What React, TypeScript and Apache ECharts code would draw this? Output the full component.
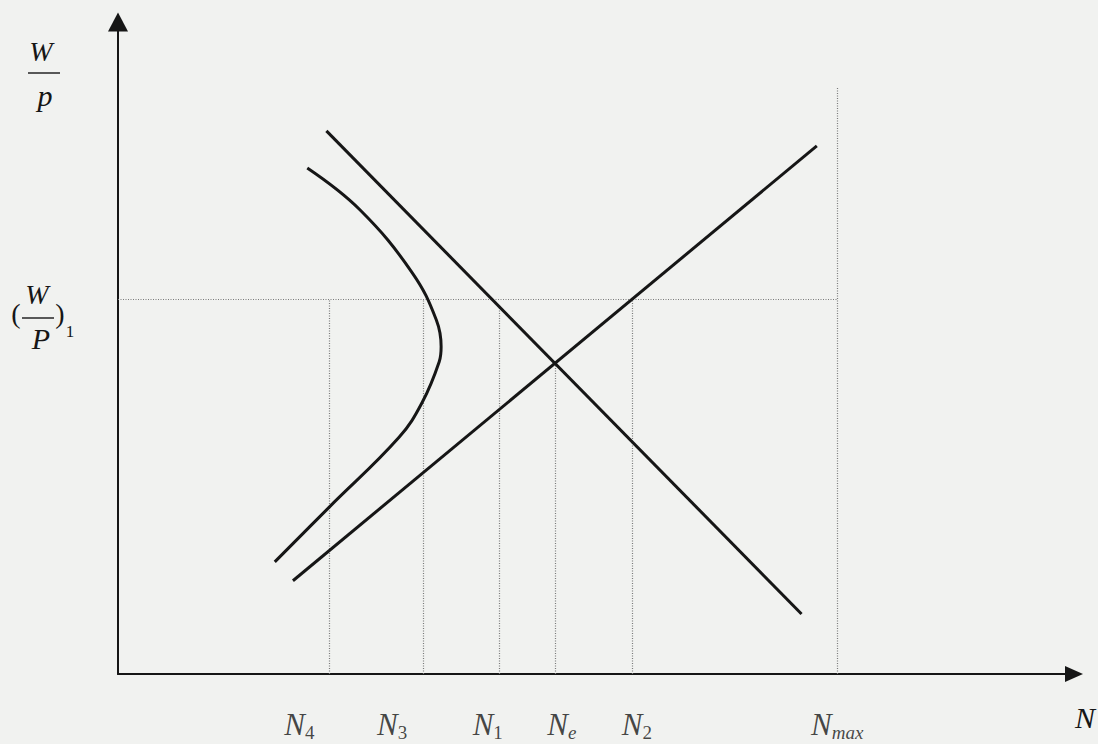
import React, { useEffect, useRef } from 'react';
import * as echarts from 'echarts';

// Employment N (x, 0–100 along the N axis) and real wage W/P (y, 0–100 along the W/P axis)
const labourDemand: [number, number][] = [[21.8, 83.3], [71.5, 9.2]];
const labourSupply: [number, number][] = [[18.3, 14.3], [73.1, 81.0]];
const bendingCurve: [number, number][] = [
  [19.8, 77.6], [25.3, 71.2], [30.8, 61.5], [33.3, 54.3], [33.8, 50.2],
  [33.6, 47.9], [31.8, 41.6], [29.4, 36.3], [22.1, 25.6], [16.4, 17.2],
];
const realWage1 = 57.5;
const wageLineEndN = 75.2;
const dropLineN = [22.1, 31.9, 39.9, 45.7, 53.8, 75.2];
const dropLineTop = [57.5, 57.5, 56.3, 47.7, 57.5, 90];
const tickLabelN = [17.4, 27.1, 37.1, 44.9, 52.7, 72.5];
const tickLabelSub = ['4', '3', '1', 'e', '2', 'max'];
const xAxisName = 'N';

const SERIF = "'Liberation Serif', 'Times New Roman', serif";
const INK = '#161616';
const DOT = '#7a7a7a';

export default function App() {
  const ref = useRef<HTMLDivElement>(null);
  useEffect(() => {
    if (!ref.current) return;
    const chart = echarts.init(ref.current, undefined, { renderer: 'svg' });

    const dotted: any[] = dropLineN.map((n, i) => ({ coords: [[n, 0], [n, dropLineTop[i]]] }));
    dotted.push({ coords: [[0, realWage1], [wageLineEndN, realWage1]] });

    const labelData = tickLabelN.map((n, i) => ({ value: [n, 0], sub: tickLabelSub[i] }));

    const txt = (text: string, x: number, y: number, size: number, italic = true) => ({
      type: 'text', x, y, z: 10,
      style: {
        text, fill: INK, align: 'center', verticalAlign: 'middle',
        font: `${italic ? 'italic ' : ''}${size}px ${SERIF}`,
      },
    });
    const bar = (x1: number, x2: number, y: number) => ({
      type: 'line', z: 10,
      shape: { x1, y1: y, x2, y2: y },
      style: { stroke: INK, lineWidth: 1.4 },
    });

    chart.setOption({
      animation: false,
      backgroundColor: '#f1f2f0',
      grid: { left: 118, right: 22, top: 22, bottom: 70 },
      xAxis: {
        type: 'value', min: 0, max: 100,
        name: xAxisName, nameLocation: 'end', nameGap: 1,
        nameTextStyle: {
          fontFamily: SERIF, fontStyle: 'italic', fontSize: 30, color: INK,
          align: 'left', verticalAlign: 'top', lineHeight: 34, padding: [26, 0, 0, 0],
        },
        axisLine: {
          show: true, onZero: false,
          lineStyle: { color: INK, width: 2.2 },
          symbol: ['none', 'triangle'], symbolSize: [16, 18],
        },
        axisTick: { show: false }, axisLabel: { show: false }, splitLine: { show: false },
      },
      yAxis: {
        type: 'value', min: 0, max: 100,
        axisLine: {
          show: true, onZero: false,
          lineStyle: { color: INK, width: 2 },
          symbol: ['none', 'triangle'], symbolSize: [20, 19],
        },
        axisTick: { show: false }, axisLabel: { show: false }, splitLine: { show: false },
      },
      series: [
        {
          type: 'lines', coordinateSystem: 'cartesian2d', silent: true,
          lineStyle: { color: DOT, width: 1.2, type: [1, 1.5], opacity: 1 },
          data: dotted,
        },
        {
          type: 'line', data: labourDemand, showSymbol: false, silent: true,
          lineStyle: { color: INK, width: 3 },
        },
        {
          type: 'line', data: labourSupply, showSymbol: false, silent: true,
          lineStyle: { color: INK, width: 3 },
        },
        {
          type: 'line', data: bendingCurve, showSymbol: false, silent: true, smooth: 0.4,
          lineStyle: { color: INK, width: 3 },
        },
        {
          type: 'scatter', data: labelData, symbolSize: 1, silent: true,
          itemStyle: { color: 'transparent' },
          label: {
            show: true, position: 'bottom', distance: 33, align: 'left', verticalAlign: 'top',
            formatter: (p: any) => {
              const s = p.data.sub as string;
              const style = /^[0-9]+$/.test(s) ? 'd' : 'l';
              return `{n|N}{${style}|${s}}`;
            },
            rich: {
              n: { fontFamily: SERIF, fontStyle: 'italic', fontSize: 31, lineHeight: 34, color: INK },
              d: { fontFamily: SERIF, fontSize: 19, lineHeight: 12, verticalAlign: 'bottom', color: INK },
              l: { fontFamily: SERIF, fontStyle: 'italic', fontSize: 19, lineHeight: 12, verticalAlign: 'bottom', color: INK },
            },
          },
        },
      ],
      graphic: [
        txt('W', 41, 51, 28),
        bar(28, 60, 73),
        txt('p', 45, 95, 30),
        txt('(', 16, 313, 28, false),
        txt('W', 37, 294, 28),
        bar(22, 54, 318),
        txt('P', 41, 338, 30),
        txt(')', 60, 313, 28, false),
        txt('1', 70, 331, 17, false),
      ],
    });
    return () => chart.dispose();
  }, []);
  return (
    <div
      ref={ref}
      style={{ position: 'fixed', left: 0, top: 0, width: 1098, height: 744 }}
    />
  );
}
